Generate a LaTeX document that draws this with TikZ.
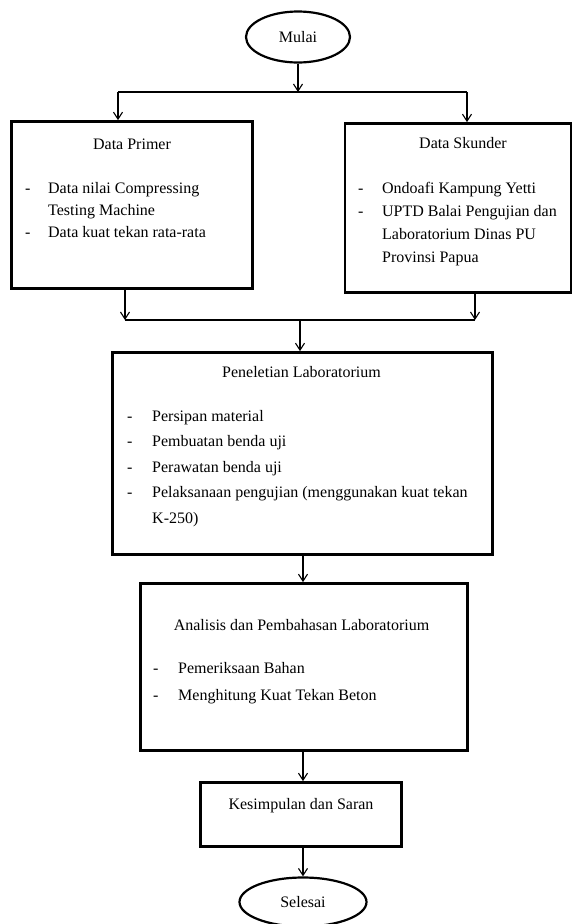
\documentclass[tikz,border=0pt]{standalone}
\usepackage{fontspec}
\setmainfont{Liberation Serif}
\usetikzlibrary{positioning, arrows.meta, shapes.geometric}

\tikzset{
	box/.style={draw, rectangle, line width=2.7pt, inner sep=0pt},
	term/.style={draw, ellipse, line width=2.2pt, inner sep=0pt},
	title/.style={inner sep=0pt},
	list/.style={inner sep=0pt, anchor=north west},
	flow/.style={line width=1.1pt},
}

\begin{document}
\begin{tikzpicture}[x=1pt, y=-1pt, font=\fontsize{16pt}{22pt}\selectfont,
		>={Straight Barb[length=7pt, width=9pt]}]
		\useasboundingbox (0,0) rectangle (574,924);
		
		\node[term, minimum width=104pt, minimum height=51pt] (mulai) at (298,37) {Mulai};
		\node[box, minimum width=241pt, minimum height=167pt] (primer) at (132,205) {};
		\node[box, minimum width=226pt, minimum height=169pt] (skunder) at (458,208) {};
		\node[box, minimum width=380pt, minimum height=202pt] (lab) at (302.5,453.5) {};
		\node[box, minimum width=327pt, minimum height=167pt] (analisis) at (304,667) {};
		\node[box, minimum width=201pt, minimum height=64pt] (kesimpulan) at (301,814.5) {};
		\node[term, minimum width=127pt, minimum height=49pt] (selesai) at (303,902) {Selesai};
		
		\node[title] (primer-title) at (132,144) {Data Primer};
		\node[list] (primer-list) at (25,177.6) {%
			\begin{tabular}{@{}p{23pt}@{}l@{}}
				- & Data nilai Compressing\\
				  & Testing Machine\\
				- & Data kuat tekan rata-rata
			\end{tabular}};
		
		\node[title] (skunder-title) at (463,143) {Data Skunder};
		\node[list, font=\fontsize{16pt}{23pt}\selectfont] (skunder-list) at (358,177) {%
			\begin{tabular}{@{}p{24pt}@{}l@{}}
				- & Ondoafi Kampung Yetti\\
				- & UPTD Balai Pengujian dan\\
				  & Laboratorium Dinas PU\\
				  & Provinsi Papua
			\end{tabular}};
		
		\node[title] (lab-title) at (301.5,372) {Peneletian Laboratorium};
		\node[list, font=\fontsize{16pt}{25.5pt}\selectfont] (lab-list) at (127,403) {%
			\begin{tabular}{@{}p{25pt}@{}l@{}}
				- & Persipan material\\
				- & Pembuatan benda uji\\
				- & Perawatan benda uji\\
				- & Pelaksanaan pengujian (menggunakan kuat tekan\\
				  & K-250)
			\end{tabular}};
		
		\node[title] (analisis-title) at (301.5,625) {Analisis dan Pembahasan Laboratorium};
		\node[list, font=\fontsize{16pt}{27pt}\selectfont] (analisis-list) at (153,654) {%
			\begin{tabular}{@{}p{25pt}@{}l@{}}
				- & Pemeriksaan Bahan\\
				- & Menghitung Kuat Tekan Beton
			\end{tabular}};
		
		\node[title] (kesimpulan-title) at (301,806) {Kesimpulan dan Saran};
		
		\coordinate (splitL) at (118,92);
		\coordinate (splitR) at (467,92);
		\coordinate (joinL) at (125,320);
		\coordinate (joinR) at (475,320);
		
		\draw[flow, ->] (mulai) -- (mulai |- splitL);
		\draw[flow] (splitL) -- (splitR);
		\draw[flow, ->] (splitL) -- (splitL |- primer.north);
		\draw[flow, ->] (splitR) -- (splitR |- skunder.north);
		\draw[flow, ->] (joinL |- primer.south) -- (joinL);
		\draw[flow, ->] (joinR |- skunder.south) -- (joinR);
		\draw[flow] (joinL) -- (joinR);
		\draw[flow, ->] (300,320) -- (300,0 |- lab.north);
		\draw[flow, ->] (303,0 |- lab.south) -- (303,0 |- analisis.north);
		\draw[flow, ->] (303,0 |- analisis.south) -- (303,0 |- kesimpulan.north);
		\draw[flow, ->] (303,0 |- kesimpulan.south) -- (selesai.north);
	\end{tikzpicture}
\end{document}
